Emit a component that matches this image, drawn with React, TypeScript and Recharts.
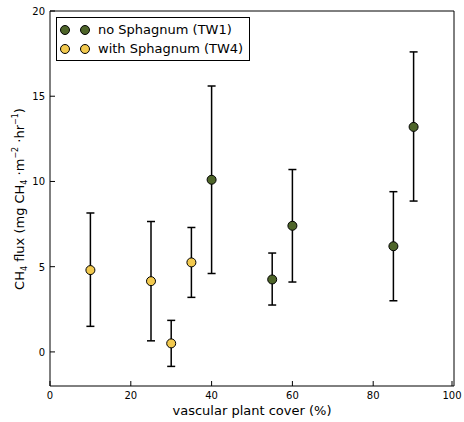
import { ScatterChart, Scatter, XAxis, YAxis, ErrorBar } from 'recharts';

// TW1: no Sphagnum
const tw1Cover = [40, 55, 60, 85, 90];
const tw1Flux = [10.1, 4.25, 7.4, 6.2, 13.2];
const tw1Low = [4.6, 2.75, 4.1, 3.0, 8.85];
const tw1High = [15.6, 5.8, 10.7, 9.4, 17.6];

// TW4: with Sphagnum
const tw4Cover = [10, 25, 30, 35];
const tw4Flux = [4.8, 4.15, 0.5, 5.25];
const tw4Low = [1.5, 0.65, -0.85, 3.2];
const tw4High = [8.15, 7.65, 1.85, 7.3];

const xTicks = [0, 20, 40, 60, 80, 100];
const yTicks = [0, 5, 10, 15, 20];

const GREEN = '#4e6529';
const YELLOW = '#f2c94e';
const FONT = '"DejaVu Sans", sans-serif';

const build = (xs, ys, lo, hi) =>
  xs.map((x, i) => ({ x, y: ys[i], err: [ys[i] - lo[i], hi[i] - ys[i]] }));

const tw1 = build(tw1Cover, tw1Flux, tw1Low, tw1High);
const tw4 = build(tw4Cover, tw4Flux, tw4Low, tw4High);

const dot = (color) => (props) => (
  <circle cx={props.cx} cy={props.cy} r={4.5} fill={color} stroke="#000" strokeWidth={1} />
);

const BottomTick = ({ x, y, payload }) => (
  <g>
    <line x1={x} x2={x} y1={y} y2={y - 5} stroke="#000" strokeWidth={1} />
    <text x={x} y={y + 13} textAnchor="middle" fontSize={10} fontFamily={FONT} fill="#000">
      {payload.value}
    </text>
  </g>
);

const TopTick = ({ x, y }) => (
  <line x1={x} x2={x} y1={y} y2={y + 5} stroke="#000" strokeWidth={1} />
);

const LeftTick = ({ x, y, payload }) => (
  <g>
    <line x1={x} x2={x + 5} y1={y} y2={y} stroke="#000" strokeWidth={1} />
    <text x={x - 5} y={y + 4} textAnchor="end" fontSize={10} fontFamily={FONT} fill="#000">
      {payload.value}
    </text>
  </g>
);

const RightTick = ({ x, y }) => (
  <line x1={x} x2={x - 5} y1={y} y2={y} stroke="#000" strokeWidth={1} />
);

const YLabel = () => (
  <text
    x={0}
    y={0}
    transform="translate(24,199) rotate(-90)"
    textAnchor="middle"
    fontSize={13}
    fontFamily={FONT}
    fill="#000"
  >
    CH<tspan fontSize={8} dy={3}>4</tspan>
    <tspan dy={-3}> flux (mg CH</tspan>
    <tspan fontSize={8} dy={3}>4</tspan>
    <tspan dy={-3}> ·m</tspan>
    <tspan fontSize={8} dy={-6}>−2</tspan>
    <tspan dy={6}> ·hr</tspan>
    <tspan fontSize={8} dy={-6}>−1</tspan>
    <tspan dy={6}>)</tspan>
  </text>
);

const XLabel = () => (
  <text x={252} y={415} textAnchor="middle" fontSize={13} fontFamily={FONT} fill="#000">
    vascular plant cover (%)
  </text>
);

const marker = (color, ml) => ({
  width: 10,
  height: 10,
  borderRadius: 5,
  background: color,
  border: '1px solid #000',
  marginLeft: ml,
  boxSizing: 'border-box' as const,
  flex: 'none',
});

const LegendRow = ({ color, label }) => (
  <div style={{ display: 'flex', alignItems: 'center', height: 19, whiteSpace: 'nowrap' }}>
    <span style={marker(color, 0)} />
    <span style={marker(color, 10)} />
    <span style={{ marginLeft: 8 }}>{label}</span>
  </div>
);

export default function App() {
  return (
    <div style={{ position: 'absolute', left: 0, top: 0, width: 464, height: 422, background: '#fff' }}>
      <ScatterChart width={464} height={422} margin={{ top: 10, right: 9, bottom: 0, left: 0 }}>
        <XAxis
          xAxisId="bottom"
          type="number"
          dataKey="x"
          domain={[0, 100]}
          ticks={xTicks}
          height={36}
          tickSize={0}
          tickMargin={0}
          tickLine={false}
          tick={BottomTick}
          stroke="#000"
          label={{ content: XLabel }}
        />
        <XAxis
          xAxisId="top"
          orientation="top"
          type="number"
          dataKey="x"
          domain={[0, 100]}
          ticks={xTicks}
          height={1}
          tickSize={0}
          tickMargin={0}
          tickLine={false}
          tick={TopTick}
          stroke="#000"
        />
        <YAxis
          yAxisId="left"
          type="number"
          dataKey="y"
          domain={[-2, 20]}
          ticks={yTicks}
          width={50}
          tickSize={0}
          tickMargin={0}
          tickLine={false}
          tick={LeftTick}
          stroke="#000"
          label={{ content: YLabel }}
        />
        <YAxis
          yAxisId="right"
          orientation="right"
          type="number"
          dataKey="y"
          domain={[-2, 20]}
          ticks={yTicks}
          width={1}
          tickSize={0}
          tickMargin={0}
          tickLine={false}
          tick={RightTick}
          stroke="#000"
        />
        <Scatter data={tw1} xAxisId="bottom" yAxisId="left" shape={dot(GREEN)} isAnimationActive={false}>
          <ErrorBar dataKey="err" direction="y" width={4} stroke="#000" strokeWidth={1.5} />
        </Scatter>
        <Scatter data={tw4} xAxisId="bottom" yAxisId="left" shape={dot(YELLOW)} isAnimationActive={false}>
          <ErrorBar dataKey="err" direction="y" width={4} stroke="#000" strokeWidth={1.5} />
        </Scatter>
      </ScatterChart>
      <div
        style={{
          position: 'absolute',
          left: 56,
          top: 17,
          width: 194,
          height: 44,
          boxSizing: 'border-box',
          border: '1px solid #000',
          background: '#fff',
          padding: '2px 0 0 3px',
          fontFamily: FONT,
          fontSize: 13,
          color: '#000',
        }}
      >
        <LegendRow color={GREEN} label="no Sphagnum (TW1)" />
        <LegendRow color={YELLOW} label="with Sphagnum (TW4)" />
      </div>
    </div>
  );
}
